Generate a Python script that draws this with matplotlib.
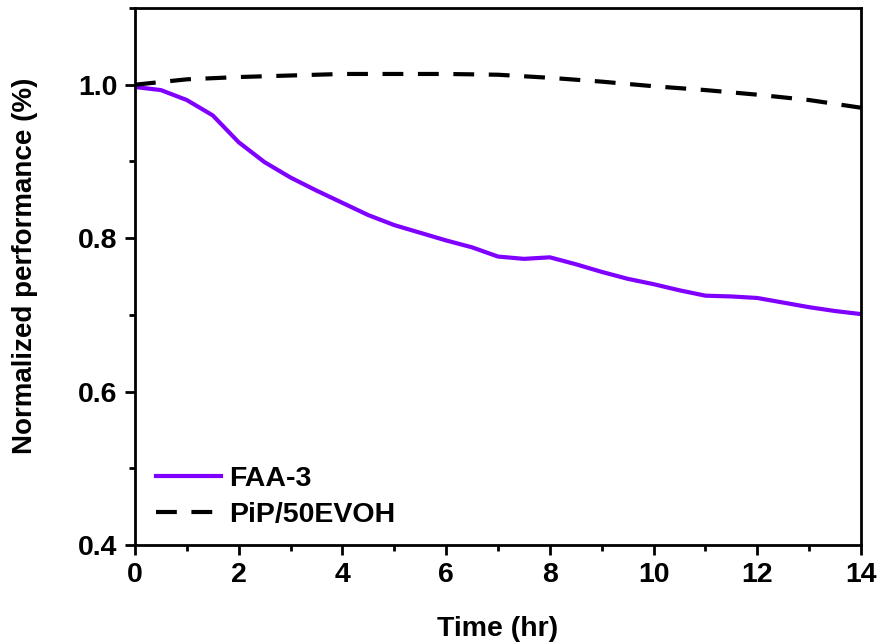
import numpy as np
import matplotlib
matplotlib.use('Agg')
import matplotlib.pyplot as plt
from matplotlib.ticker import MultipleLocator

plt.rcParams['font.family'] = ['Liberation Sans', 'DejaVu Sans']
plt.rcParams['font.weight'] = 'bold'

# --- data ---
faa_time = [0, 0.5, 1, 1.5, 2, 2.5, 3, 3.5, 4, 4.5, 5, 5.5, 6, 6.5, 7, 7.5,
            8, 8.5, 9, 9.5, 10, 10.5, 11, 11.5, 12, 12.5, 13, 13.5, 14]
faa_perf = [0.997, 0.993, 0.980, 0.960, 0.925, 0.899, 0.879, 0.862, 0.846,
            0.830, 0.817, 0.807, 0.797, 0.788, 0.776, 0.773, 0.775, 0.766,
            0.756, 0.747, 0.740, 0.732, 0.725, 0.724, 0.722, 0.716, 0.710,
            0.705, 0.701]

pip_time = [0, 1, 2, 3, 4, 5, 6, 7, 8, 9, 10, 11, 12, 13, 14]
pip_perf = [1.000, 1.007, 1.010, 1.012, 1.014, 1.014, 1.014, 1.013, 1.009,
            1.004, 0.998, 0.993, 0.987, 0.980, 0.970]

fs = 20.5

fig = plt.figure(figsize=(8.81, 6.44), dpi=100)
ax = fig.add_axes([0.1532, 0.1537, 0.8241, 0.8339])

ax.plot(faa_time, faa_perf, color='#8000FF', lw=3, label='FAA-3')
ax.plot(pip_time, pip_perf, color='black', lw=3, linestyle=(0, (5, 3.5)),
        label='PiP/50EVOH')

ax.set_xlim(0, 14)
ax.set_ylim(0.4, 1.1)
ax.xaxis.set_major_locator(MultipleLocator(2))
ax.xaxis.set_minor_locator(MultipleLocator(1))
ax.yaxis.set_minor_locator(MultipleLocator(0.1))
ax.set_yticks([0.4, 0.6, 0.8, 1.0])
ax.set_yticklabels(['0.4', '0.6', '0.8', '1.0'])

for s in ax.spines.values():
    s.set_linewidth(2)
ax.tick_params(which='major', direction='out', length=7.5, width=2,
               labelsize=fs, pad=5)
ax.tick_params(which='minor', direction='out', length=4.5, width=2)
for lab in ax.get_xticklabels() + ax.get_yticklabels():
    lab.set_fontweight('bold')

ax.set_xlabel('Time (hr)', fontsize=fs, fontweight='bold')
ax.set_ylabel('Normalized performance (%)', fontsize=20, fontweight='bold')
ax.xaxis.set_label_coords(0.5, -0.133)
ax.yaxis.set_label_coords(-0.134, 0.52)

ax.legend(loc='upper left', frameon=False, bbox_to_anchor=(-0.007, 0.195),
          handlelength=2.3, handletextpad=0.3, labelspacing=0.37,
          prop={'weight': 'bold', 'size': fs})

fig.savefig('out.png', dpi=100)
